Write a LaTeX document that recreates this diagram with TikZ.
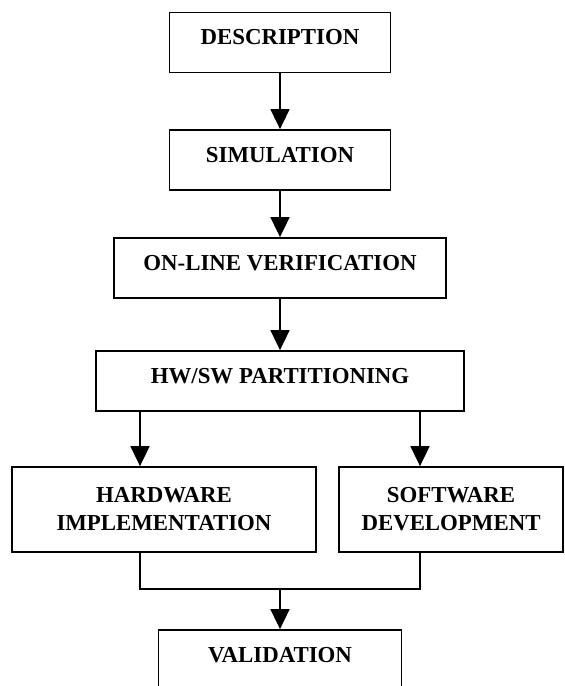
\documentclass[tikz,border=0pt]{standalone}
\usepackage{fontspec}
\setmainfont{Liberation Serif}
\usetikzlibrary{arrows.meta}
\usetikzlibrary{positioning}

\begin{document}
\begin{tikzpicture}[
  stage/.style={draw,line width=1pt,font=\fontsize{13}{16}\selectfont\bfseries,align=center,inner sep=0pt},
  oneline/.style={minimum height=1.2cm,text height=0.35cm,text depth=0.26cm},
  twoline/.style={minimum height=1.7cm},
  flow/.style={line width=1pt,-{Triangle[width=0.38cm,length=0.4cm]}}]
\useasboundingbox (0,0) rectangle (11.28,13.72);

\node[stage,oneline,minimum width=4.42cm] (desc) at (5.6,12.87) {DESCRIPTION};
\node[stage,oneline,minimum width=4.42cm] (sim) at (5.6,10.52) {SIMULATION};
\node[stage,oneline,minimum width=6.64cm] (online) at (5.6,8.36) {ON-LINE VERIFICATION};
\node[stage,oneline,minimum width=7.36cm] (part) at (5.6,6.10) {HW/SW PARTITIONING};
\node[stage,twoline,minimum width=6.08cm] (hw) at (3.28,3.53) {HARDWARE\\IMPLEMENTATION};
\node[stage,twoline,minimum width=4.48cm] (sw) at (9.02,3.53) {SOFTWARE\\DEVELOPMENT};
\node[stage,oneline,minimum width=4.86cm] (val) at (5.6,0.52) {VALIDATION};
\coordinate[above=0.8cm of val] (join);

\draw[flow] (desc) -- (sim);
\draw[flow] (sim) -- (online);
\draw[flow] (online) -- (part);
\draw[flow] ([xshift=-0.48cm]hw.north |- part.south) -- ([xshift=-0.48cm]hw.north);
\draw[flow] ([xshift=-0.62cm]sw.north |- part.south) -- ([xshift=-0.62cm]sw.north);
\draw[line width=1pt] ([xshift=-0.48cm]hw.south) |- (join) -| ([xshift=-0.62cm]sw.south);
\draw[flow] (join) -- (val);

\end{tikzpicture}
\end{document}
